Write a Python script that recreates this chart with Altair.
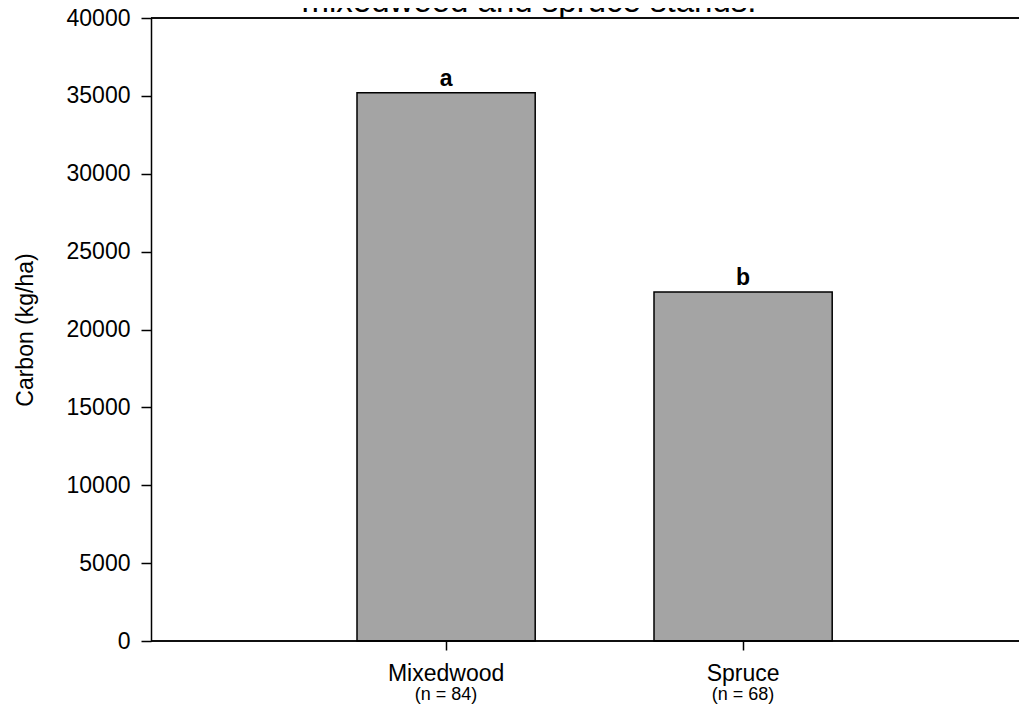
import altair as alt
import pandas as pd

# ---- data ----
stands = ["Mixedwood", "Spruce"]
carbon = [35200, 22400]
letters = ["a", "b"]
sample_n = ["(n = 84)", "(n = 68)"]
title_text = "mixedwood and spruce stands."
y_ticks = [0, 5000, 10000, 15000, 20000, 25000, 30000, 35000, 40000]

df = pd.DataFrame({"stand": stands, "carbon": carbon, "letter": letters, "n": sample_n})
title_df = pd.DataFrame({"t": [title_text]})

W, H = 868, 623
FONT = "Liberation Sans"

x_enc = alt.X(
    "stand:N",
    sort=stands,
    scale=alt.Scale(range=[57.5, 829.7], paddingInner=0.4, paddingOuter=0.5, align=0.5),
    axis=alt.Axis(
        title=None, labelAngle=0, labelFont=FONT, labelFontSize=23, labelColor="black",
        labelPadding=12, tickSize=9, tickColor="black", tickWidth=1.5,
        domain=False, grid=False,
    ),
)
y_enc = alt.Y(
    "carbon:Q",
    scale=alt.Scale(domain=[0, 40000], nice=False),
    axis=alt.Axis(
        values=y_ticks, format="d", title="Carbon (kg/ha)",
        titleFont=FONT, titleFontSize=23, titleFontWeight="normal", titleColor="black",
        titlePadding=29, labelFont=FONT, labelFontSize=23, labelColor="black",
        labelPadding=11, tickSize=10, tickColor="black", tickWidth=1.5,
        domainColor="black", domainWidth=1.5, grid=False,
    ),
)

base = alt.Chart(df)

bars = base.mark_bar(color="#a4a4a4", stroke="black", strokeWidth=1.5).encode(x=x_enc, y=y_enc)

letter_text = base.mark_text(
    font=FONT, fontSize=23, fontWeight="bold", color="black", baseline="alphabetic", dy=-7
).encode(x=alt.X("stand:N", sort=stands), y="carbon:Q", text="letter:N")

n_text = base.mark_text(
    font=FONT, fontSize=18, color="black", baseline="alphabetic"
).encode(x=alt.X("stand:N", sort=stands), y=alt.value(682), text="n:N")

top_rule = base.mark_rule(color="black", strokeWidth=1.5).encode(
    x=alt.value(0), x2=alt.value(W), y=alt.value(0)
)
bottom_rule = base.mark_rule(color="black", strokeWidth=1.5).encode(
    x=alt.value(0), x2=alt.value(W), y=alt.value(H)
)

title_mark = alt.Chart(title_df).mark_text(
    font=FONT, fontSize=33, color="black", baseline="alphabetic", align="center"
).encode(x=alt.value(378), y=alt.value(-6), text="t:N")

chart = (
    alt.layer(bars, letter_text, n_text, top_rule, bottom_rule, title_mark)
    .properties(
        width=W, height=H,
        autosize=alt.AutoSizeParams(type="none"),
        padding={"left": 143, "right": 0, "top": 10, "bottom": 63},
        background="white",
    )
    .configure_view(stroke=None)
)

chart.save("out.html", embed_options={"renderer": "svg", "actions": False})
